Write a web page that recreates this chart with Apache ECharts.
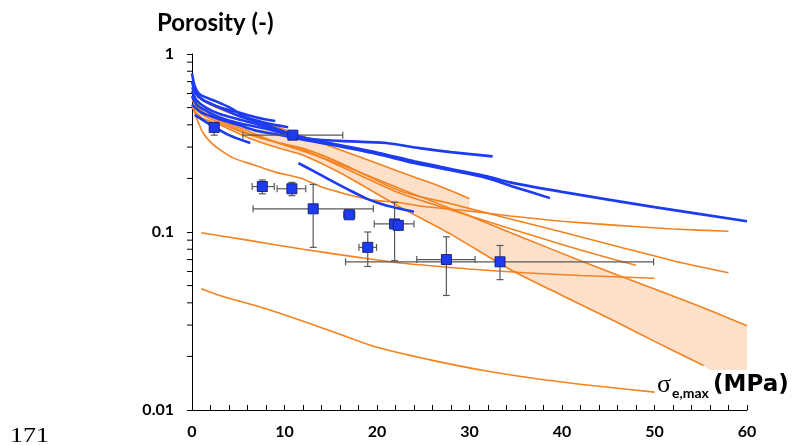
<!DOCTYPE html>
<html><head><meta charset="utf-8">
<script src="https://cdn.jsdelivr.net/npm/echarts@6/dist/echarts.min.js"></script>
<style>html,body{margin:0;padding:0;background:#fff}#c{width:792px;height:445px}</style>
</head><body><div id="c"></div>
<script>
// ---- axis ticks ----
const xTickLabels = [0, 10, 20, 30, 40, 50, 60];
const yTickLabels = [0.01, 0.1, 1];
const yMinorTicks = [0.02,0.03,0.04,0.05,0.06,0.07,0.08,0.09,0.2,0.3,0.4,0.5,0.6,0.7,0.8,0.9];

// ---- blue compaction curves [sigma, porosity] ----
const blueA = [[0,0.62],[0.5,0.55],[1.5,0.5],[3,0.46],[5,0.43],[8,0.39],[11,0.35],[15,0.315],[20,0.28],[24,0.25],[28,0.226],[32,0.205],[34.4,0.19],[40,0.168],[50,0.138],[60,0.115]];
const blueB = [[0,0.58],[0.5,0.52],[1.5,0.48],[3,0.44],[5,0.41],[8,0.38],[11,0.345],[15,0.31],[20,0.274],[24,0.244],[28,0.222],[32,0.2],[35,0.178],[38.7,0.155]];
const blueC = [[0,0.7],[0.4,0.6],[1.2,0.55],[3,0.5],[5,0.45],[8,0.4],[12,0.337],[16,0.325],[21,0.316],[24.6,0.296],[28,0.281],[32.5,0.266]];
const blueD = [[11.5,0.244],[13,0.222],[15,0.195],[17,0.172],[19,0.153],[21,0.141],[24,0.13]];
const blueE = [[0.3,0.455],[2,0.4],[4,0.35],[6.3,0.316]];
const blueF = [[0,0.78],[0.3,0.66],[0.9,0.59],[2.3,0.55],[4.1,0.5],[5.9,0.44],[8,0.41],[10.4,0.388]];
const blueG = [[0,0.52],[1,0.47],[3,0.43],[5,0.4],[7,0.37],[9,0.355],[12,0.33],[15,0.31]];
const blueH = [[0,0.65],[1,0.56],[3,0.5],[5,0.47],[7,0.44],[9,0.42]];

// ---- orange curves ----
const orange1 = [[1,0.048],[3,0.044],[8,0.037],[14,0.029],[20,0.0225],[26,0.019],[32,0.0165],[38,0.0148],[44,0.0136],[50,0.0126]];
const orange2 = [[1,0.099],[6,0.09],[12,0.08],[18,0.072],[22.5,0.067],[30,0.062],[36,0.059],[42,0.057],[50,0.055]];
const orange3 = [[0,0.52],[0.4,0.45],[0.7,0.41],[1.2,0.36],[2,0.32],[3,0.29],[4.5,0.26],[6.6,0.239],[9,0.217],[11.7,0.201],[13.8,0.181],[16,0.167],[19.2,0.152],[22.5,0.146],[24.6,0.14],[30,0.131],[34.4,0.123],[40,0.115],[46,0.109],[52,0.104],[58,0.101]];
const orange4 = [[0,0.64],[1,0.56],[3,0.49],[5,0.45],[8,0.41],[12,0.344],[16,0.29],[20,0.243],[24,0.204],[27,0.179],[30,0.154]];
const orange5 = [[0,0.55],[1,0.48],[3,0.42],[6,0.36],[9,0.32],[12,0.29],[16,0.235],[22.5,0.165],[28,0.133],[34,0.106],[40,0.085],[44,0.074],[48,0.065]];
const orange6 = [[0,0.52],[1,0.46],[3,0.41],[6,0.355],[9,0.32],[12,0.295],[16,0.245],[22.5,0.17],[28,0.144],[34,0.12],[40,0.1],[46,0.083],[52,0.069],[58,0.059]];
const bandUpper = [[0,0.58],[1,0.5],[3,0.43],[6,0.37],[9,0.32],[12,0.285],[16,0.24],[22.5,0.175],[30,0.123],[36,0.092],[42,0.069],[50,0.0478],[55,0.038],[60,0.0297]];
const bandLower = [[0,0.5],[1,0.44],[3,0.4],[6,0.34],[9,0.3],[12,0.27],[16,0.215],[22.5,0.138],[28,0.097],[34.4,0.0616],[40,0.044],[46,0.031],[50,0.0243],[55.3,0.0178]];
const bandFloor = 0.0168;

// ---- measured points with error bars ----
const ptX   = [2.4, 10.9, 7.6, 10.8, 13.1, 17.0, 19.0, 21.9, 22.3, 27.5, 33.3];
const ptY   = [0.387, 0.35, 0.18, 0.175, 0.135, 0.125, 0.082, 0.111, 0.109, 0.07, 0.068];
const ptXLo = [2.4, 5.5, 6.5, 9.2, 6.6, 16.4, 18.05, 19.7, 22.3, 24.3, 16.6];
const ptXHi = [2.4, 16.3, 8.9, 12.3, 19.6, 17.6, 19.95, 24.0, 22.3, 30.6, 49.9];
const ptYLo = [0.35, 0.35, 0.164, 0.16, 0.082, 0.12, 0.064, 0.069, 0.109, 0.044, 0.054];
const ptYHi = [0.40, 0.35, 0.196, 0.19, 0.185, 0.13, 0.1, 0.147, 0.109, 0.094, 0.084];

const BLUE = '#1d3cf2', ORANGE = '#f5821f', FILL = '#fde0c9';

// band polygon: upper = orange4 up to its end, then bandUpper; lower = bandLower reversed
const bandStart = 6;
const bandPoly = [];
orange4.filter(p => p[0] >= bandStart).forEach(p => bandPoly.push(p));
const o4End = orange4[orange4.length - 1][0];
bandUpper.filter(p => p[0] >= o4End).forEach(p => bandPoly.push(p));
bandPoly.push([bandUpper[bandUpper.length - 1][0], bandFloor]);
bandPoly.push([bandLower[bandLower.length - 1][0] + 0.7, bandFloor]);
bandLower.filter(p => p[0] >= bandStart).slice().reverse().forEach(p => bandPoly.push(p));

const chart = echarts.init(document.getElementById('c'), null, {renderer: 'canvas'});

function lineSeries(data, color, width, z) {
  return {type: 'line', data: data, showSymbol: false, symbol: 'none', smooth: 0.25,
          lineStyle: {color: color, width: width}, z: z, silent: true, animation: false};
}

const series = [];
series.push({
  type: 'custom', z: 1, silent: true, animation: false, clip: true,
  data: [[0, 0]],
  renderItem: function (params, api) {
    const pts = bandPoly.map(p => api.coord(p));
    return {type: 'polygon', shape: {points: pts}, style: {fill: FILL, stroke: null}};
  }
});
[orange1, orange2, orange3, orange4, orange5, orange6, bandUpper, bandLower].forEach(d => series.push(lineSeries(d, ORANGE, 1.6, 2)));
[blueA, blueB, blueC, blueD, blueE, blueF, blueG, blueH].forEach(d => series.push(lineSeries(d, BLUE, 2.6, 3)));

// error bars
series.push({
  type: 'custom', z: 4, silent: true, animation: false, clip: false,
  data: ptX.map((x, i) => [x, ptY[i], ptXLo[i], ptXHi[i], ptYLo[i], ptYHi[i]]),
  renderItem: function (params, api) {
    const x = api.value(0), y = api.value(1);
    const xl = api.value(2), xh = api.value(3), yl = api.value(4), yh = api.value(5);
    const st = {stroke: '#595959', lineWidth: 1.2};
    const cap = 3.5;
    const ch = [];
    if (xh > xl) {
      const a = api.coord([xl, y]), b = api.coord([xh, y]);
      ch.push({type: 'line', shape: {x1: a[0], y1: a[1], x2: b[0], y2: b[1]}, style: st});
      ch.push({type: 'line', shape: {x1: a[0], y1: a[1] - cap, x2: a[0], y2: a[1] + cap}, style: st});
      ch.push({type: 'line', shape: {x1: b[0], y1: b[1] - cap, x2: b[0], y2: b[1] + cap}, style: st});
    }
    if (yh > yl) {
      const a = api.coord([x, yl]), b = api.coord([x, yh]);
      ch.push({type: 'line', shape: {x1: a[0], y1: a[1], x2: b[0], y2: b[1]}, style: st});
      ch.push({type: 'line', shape: {x1: a[0] - cap, y1: a[1], x2: a[0] + cap, y2: a[1]}, style: st});
      ch.push({type: 'line', shape: {x1: b[0] - cap, y1: b[1], x2: b[0] + cap, y2: b[1]}, style: st});
    }
    return {type: 'group', children: ch};
  }
});
// squares
series.push({
  type: 'scatter', z: 5, silent: true, animation: false,
  data: ptX.map((x, i) => [x, ptY[i]]),
  symbol: 'rect', symbolSize: 10,
  itemStyle: {color: BLUE, borderColor: '#1a237a', borderWidth: 1, opacity: 1}
});
// y minor ticks
series.push({
  type: 'custom', z: 6, silent: true, animation: false, clip: false,
  data: yMinorTicks.map(v => [0, v]),
  renderItem: function (params, api) {
    const c = api.coord([0, api.value(1)]);
    return {type: 'line', shape: {x1: c[0] - 5, y1: c[1], x2: c[0], y2: c[1]}, style: {stroke: '#000', lineWidth: 1}};
  }
});

chart.setOption({
  animation: false,
  backgroundColor: '#fff',
  grid: {left: 192, right: 45, top: 54, bottom: 35, containLabel: false},
  xAxis: {
    type: 'value', min: xTickLabels[0], max: xTickLabels[xTickLabels.length - 1], interval: 10,
    axisLine: {show: true, onZero: false, lineStyle: {color: '#000', width: 1}},
    axisTick: {show: true, inside: true, length: 5, lineStyle: {color: '#000'}},
    minorTick: {show: true, splitNumber: 5, length: 5, lineStyle: {color: '#000'}},
    splitLine: {show: false},
    axisLabel: {margin: 14, fontFamily: 'Lato', fontWeight: 'bold', fontSize: 16, color: '#000',
                formatter: v => (xTickLabels.indexOf(v) >= 0 ? String(v) : '')}
  },
  yAxis: {
    type: 'log', logBase: 10, min: yTickLabels[0], max: yTickLabels[yTickLabels.length - 1],
    axisLine: {show: true, lineStyle: {color: '#000', width: 1}},
    axisTick: {show: true, inside: false, length: 5, lineStyle: {color: '#000'}},
    splitLine: {show: false},
    axisLabel: {margin: 18, fontFamily: 'Lato', fontWeight: 'bold', fontSize: 16, color: '#000',
                formatter: v => String(v)}
  },
  graphic: [
    {type: 'text', left: 157, top: 11, style: {text: 'Porosity (-)', font: 'bold 24px Lato', fill: '#000'}},
    {type: 'text', x: 657, y: 385, style: {text: 'σ', font: '26px "Liberation Serif"', fill: '#000', verticalAlign: 'middle'}},
    {type: 'text', x: 672, y: 393, style: {text: 'e,max', font: 'bold 14px Lato', fill: '#000', verticalAlign: 'middle'}},
    {type: 'text', x: 713, y: 385, style: {text: '(MPa)', font: 'bold 23px "DejaVu Sans"', fill: '#000', verticalAlign: 'middle'}},
    {type: 'text', x: 10, y: 437, scaleX: 1.3, style: {text: '171', font: '20px "Liberation Serif"', fill: '#000', verticalAlign: 'middle'}}
  ],
  series: series
});
</script></body></html>
